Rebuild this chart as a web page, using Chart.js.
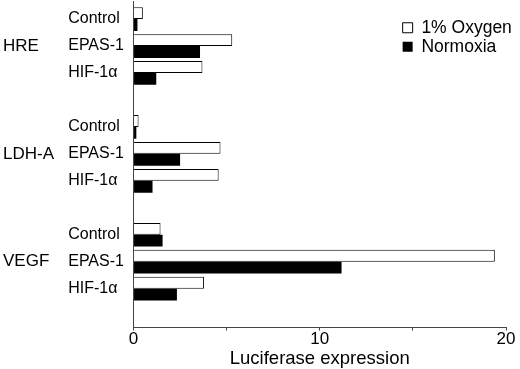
<!DOCTYPE html>
<html lang="en">
<head>
<meta charset="UTF-8">
<title>Luciferase expression</title>
<script src="https://cdn.jsdelivr.net/npm/chart.js@4.4.0/dist/chart.umd.min.js"></script>
<style>
  html, body { margin: 0; padding: 0; background: #fff; }
</style>
</head>
<body>
<canvas id="chart" width="520" height="369"></canvas>
<script>
// reporter constructs, three rows each
const groups = ['HRE', 'LDH-A', 'VEGF'];
const constructs = ['Control', 'EPAS-1', 'HIF-1\u03b1'];
// values in row order: HRE (Control, EPAS-1, HIF-1a), LDH-A (...), VEGF (...)
const oxygen1 = [0.5, 5.3, 3.7, 0.27, 4.67, 4.57, 1.45, 19.4, 3.78];
const normoxia = [0.21, 3.57, 1.22, 0.15, 2.5, 1.02, 1.56, 11.17, 2.33];
const xTicks = [0, 10, 20];

// row i sits at g*4 + c on the y scale, leaving an empty row between groups
function row(i) {
    return Math.floor(i / constructs.length) * 4 + i % constructs.length;
}

Chart.defaults.font.family = "'Liberation Sans', Arial, Helvetica, sans-serif";
Chart.defaults.color = '#000';

const yMin = -0.67, yMax = 11.44;

// row labels may run to the very top of the plot
function noEndPadding(axis) {
    axis.paddingTop = 0;
    axis.paddingBottom = 0;
}

// put the legend in the top right corner of the plot
const legendSpot = {
    id: 'legendSpot',
    afterLayout: function (chart) {
        const lg = chart.legend;
        lg.left = chart.scales.x.getPixelForValue(14.45) - 1.5;
        lg.top = chart.chartArea.top + 16.5;
        lg.right = chart.width;
        lg.width = lg.right - lg.left;
        lg.bottom = chart.chartArea.bottom;
        lg.height = lg.bottom - lg.top;
    }
};

new Chart(document.getElementById('chart'), {
    type: 'bar',
    data: {
        datasets: [
            {
                label: '1% Oxygen',
                data: oxygen1.map(function (v, i) { return {x: v, y: row(i)}; }),
                backgroundColor: '#fff',
                borderColor: '#000',
                borderWidth: 1
            },
            {
                label: 'Normoxia',
                data: normoxia.map(function (v, i) { return {x: v, y: row(i)}; }),
                backgroundColor: '#000',
                borderColor: '#000',
                borderWidth: 0
            }
        ]
    },
    options: {
        indexAxis: 'y',
        responsive: false,
        animation: false,
        categoryPercentage: 0.88,
        barPercentage: 1.0,
        layout: {padding: {left: 3, right: 14, top: 1, bottom: 1}},
        scales: {
            x: {
                type: 'linear',
                position: 'bottom',
                min: 0,
                max: 20,
                grid: {drawOnChartArea: false, tickLength: 3, color: '#444'},
                border: {color: '#444'},
                ticks: {
                    stepSize: 5,
                    autoSkip: false,
                    maxRotation: 0,
                    padding: 0,
                    font: {size: 17, lineHeight: 1},
                    callback: function (v) { return xTicks.indexOf(v) >= 0 ? v : ''; }
                },
                title: {
                    display: true,
                    text: 'Luciferase expression',
                    font: {size: 18.5, lineHeight: 1},
                    padding: {top: 2, bottom: 0}
                }
            },
            y: {
                type: 'linear',
                position: 'left',
                weight: 0,
                reverse: true,
                offset: false,
                min: yMin,
                max: yMax,
                afterBuildTicks: function (axis) {
                    axis.ticks = oxygen1.map(function (v, i) { return {value: row(i)}; });
                },
                afterFit: noEndPadding,
                grid: {drawOnChartArea: false, drawTicks: false, offset: false},
                border: {color: '#444'},
                ticks: {
                    autoSkip: false,
                    crossAlign: 'far',
                    padding: 4.8,
                    font: {size: 16},
                    callback: function (v) { return constructs[v % 4]; }
                }
            },
            y2: {
                type: 'linear',
                position: 'left',
                weight: 1,
                reverse: true,
                offset: false,
                min: yMin,
                max: yMax,
                afterBuildTicks: function (axis) {
                    axis.ticks = groups.map(function (g, k) { return {value: k * 4 + 1}; });
                },
                afterFit: noEndPadding,
                grid: {display: false, drawTicks: false, offset: false},
                border: {display: false},
                ticks: {
                    autoSkip: false,
                    crossAlign: 'far',
                    padding: 7.1,
                    font: {size: 17},
                    callback: function (v) { return groups[(v - 1) / 4]; }
                }
            }
        },
        plugins: {
            legend: {
                position: 'chartArea',
                align: 'start',
                labels: {
                    boxWidth: 10,
                    boxHeight: 10,
                    padding: 1.5,
                    font: {size: 17.5, lineHeight: 1}
                }
            },
            tooltip: {enabled: false}
        }
    },
    plugins: [legendSpot]
});
</script>
</body>
</html>
